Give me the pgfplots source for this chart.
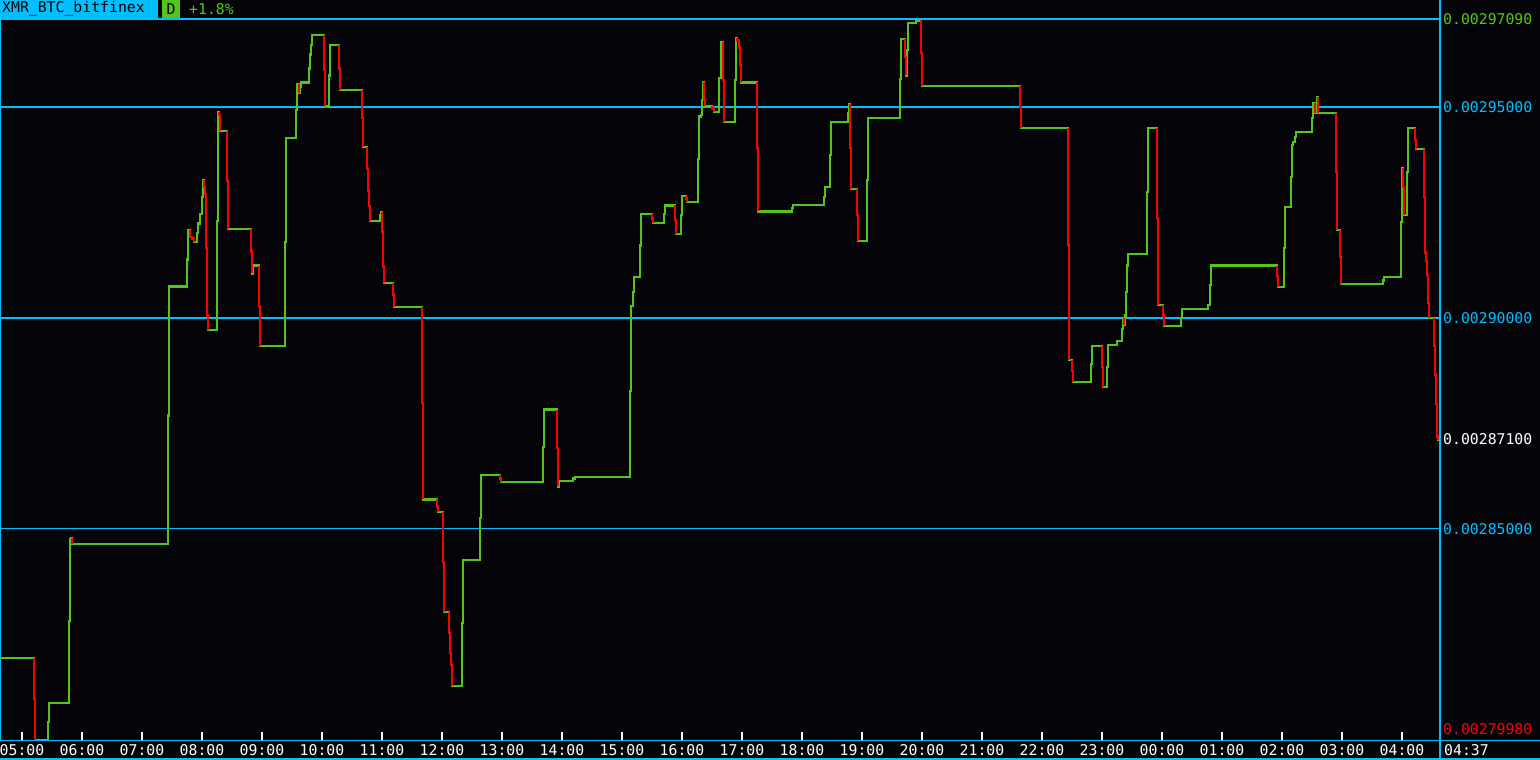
\documentclass[border=0pt]{standalone}
\usepackage{pgfplots}
\pgfplotsset{compat=1.18}
\usepackage{pgfplotstable}
\usepackage{fontspec}
\setmonofont{DejaVu Sans Mono}
\newcommand\lab{\ttfamily\fontsize{14.8}{15}\selectfont}
\definecolor{bgc}{RGB}{5,4,8}
\definecolor{skyc}{RGB}{0,191,255}
\definecolor{lgreen}{RGB}{82,198,26}
\definecolor{lred}{RGB}{255,0,0}

% price series: minute index (0 = left edge, 22 = 05:00) and price
\pgfplotstableread{
x y
0 0.00281939
34 0.00280966
35 0.00279980
48 0.00280413
49 0.00280867
69 0.00282823
70 0.00284757
71 0.00284779
72 0.00284646
168 0.00287685
169 0.00290746
187 0.00291387
188 0.00292083
190 0.00291917
192 0.00291884
194 0.00291807
197 0.00292017
198 0.00292238
200 0.00292470
202 0.00292878
203 0.00293265
204 0.00293099
205 0.00292934
206 0.00291663
207 0.00290060
208 0.00289707
217 0.00292293
218 0.00294890
219 0.00294812
220 0.00294425
227 0.00293243
228 0.00292105
251 0.00291575
252 0.00291055
253 0.00291243
259 0.00290282
260 0.00289342
285 0.00291807
286 0.00294260
296 0.00294923
297 0.00295553
299 0.00295332
300 0.00295475
301 0.00295586
309 0.00295917
310 0.00296249
311 0.00296470
312 0.00296713
324 0.00295884
325 0.00295033
329 0.00295751
330 0.00296470
339 0.00295917
340 0.00295398
362 0.00294735
363 0.00294061
367 0.00293541
368 0.00293022
369 0.00292657
370 0.00292304
380 0.00292436
381 0.00292514
382 0.00292050
383 0.00291221
384 0.00290823
393 0.00290558
394 0.00290260
422 0.00287983
423 0.00285696
437 0.00285530
438 0.00285397
443 0.00284204
444 0.00283022
449 0.00282525
450 0.00282049
451 0.00281773
452 0.00281276
462 0.00282768
463 0.00284260
480 0.00285254
481 0.00286282
500 0.00286193
501 0.00286105
543 0.00286944
544 0.00287829
557 0.00286911
558 0.00286005
559 0.00286127
573 0.00286193
575 0.00286226
630 0.00288260
631 0.00290282
633 0.00290613
634 0.00290978
640 0.00291718
641 0.00292469
652 0.00292359
653 0.00292249
664 0.00292469
665 0.00292668
675 0.00292326
676 0.00291994
681 0.00292436
682 0.00292900
686 0.00292834
687 0.00292757
698 0.00293762
699 0.00294779
701 0.00294812
702 0.00295177
703 0.00295586
704 0.00295177
705 0.00295033
712 0.00294967
714 0.00294878
719 0.00295696
721 0.00296547
723 0.00295641
724 0.00294646
735 0.00295641
736 0.00296635
737 0.00296580
739 0.00296415
740 0.00295995
741 0.00295586
757 0.00294039
758 0.00292525
792 0.00292602
793 0.00292680
824 0.00292878
825 0.00293100
830 0.00293873
831 0.00294646
848 0.00294867
849 0.00295066
850 0.00294039
851 0.00293055
857 0.00292436
858 0.00291817
867 0.00293265
868 0.00294735
900 0.00295663
901 0.00296613
905 0.00296193
906 0.00295751
907 0.00296359
908 0.00296989
916 0.00297055
921 0.00296282
922 0.00295497
1020 0.00295000
1021 0.00294503
1068 0.00291740
1069 0.00289011
1072 0.00288735
1073 0.00288481
1091 0.00288901
1092 0.00289342
1102 0.00288845
1103 0.00288371
1107 0.00288845
1108 0.00289364
1117 0.00289453
1122 0.00289729
1123 0.00290005
1124 0.00289840
1125 0.00290060
1126 0.00290613
1127 0.00291243
1128 0.00291519
1147 0.00292989
1148 0.00294503
1157 0.00292376
1158 0.00290315
1163 0.00290060
1164 0.00289806
1181 0.00290005
1182 0.00290205
1208 0.00290315
1210 0.00290779
1211 0.00291243
1277 0.00291000
1278 0.00290735
1284 0.00291663
1285 0.00292635
1291 0.00293343
1292 0.00294094
1293 0.00294171
1295 0.00294293
1296 0.00294403
1312 0.00294735
1313 0.00295088
1315 0.00294867
1317 0.00295232
1318 0.00294867
1336 0.00293453
1337 0.00292083
1340 0.00291442
1341 0.00290812
1383 0.00290890
1384 0.00290967
1401 0.00292271
1402 0.00293564
1403 0.00293099
1404 0.00292436
1407 0.00293453
1408 0.00294503
1415 0.00294227
1416 0.00294006
1424 0.00292878
1425 0.00291552
1426 0.00291354
1427 0.00291022
1428 0.00290359
1429 0.00290005
1434 0.00289342
1435 0.00288657
1436 0.00287961
1437 0.00287188
1438 0.00287100
1440 0.00287100
}\greendata

% falling moves (drawn red)
\pgfplotstableread{
x y
34 0.00281939
34 0.00280966
35 0.00280966
35 0.00279980
nan nan
72 0.00284779
72 0.00284646
nan nan
190 0.00292083
190 0.00291917
192 0.00291917
192 0.00291884
194 0.00291884
194 0.00291807
nan nan
204 0.00293265
204 0.00293099
205 0.00293099
205 0.00292934
206 0.00292934
206 0.00291663
207 0.00291663
207 0.00290060
208 0.00290060
208 0.00289707
nan nan
219 0.00294890
219 0.00294812
220 0.00294812
220 0.00294425
nan nan
227 0.00294425
227 0.00293243
228 0.00293243
228 0.00292105
nan nan
251 0.00292105
251 0.00291575
252 0.00291575
252 0.00291055
nan nan
259 0.00291243
259 0.00290282
260 0.00290282
260 0.00289342
nan nan
299 0.00295553
299 0.00295332
nan nan
324 0.00296713
324 0.00295884
325 0.00295884
325 0.00295033
nan nan
339 0.00296470
339 0.00295917
340 0.00295917
340 0.00295398
nan nan
362 0.00295398
362 0.00294735
363 0.00294735
363 0.00294061
nan nan
367 0.00294061
367 0.00293541
368 0.00293541
368 0.00293022
369 0.00293022
369 0.00292657
370 0.00292657
370 0.00292304
nan nan
382 0.00292514
382 0.00292050
383 0.00292050
383 0.00291221
384 0.00291221
384 0.00290823
nan nan
393 0.00290823
393 0.00290558
394 0.00290558
394 0.00290260
nan nan
422 0.00290260
422 0.00287983
423 0.00287983
423 0.00285696
nan nan
437 0.00285696
437 0.00285530
438 0.00285530
438 0.00285397
nan nan
443 0.00285397
443 0.00284204
444 0.00284204
444 0.00283022
nan nan
449 0.00283022
449 0.00282525
450 0.00282525
450 0.00282049
451 0.00282049
451 0.00281773
452 0.00281773
452 0.00281276
nan nan
500 0.00286282
500 0.00286193
501 0.00286193
501 0.00286105
nan nan
557 0.00287829
557 0.00286911
558 0.00286911
558 0.00286005
nan nan
652 0.00292469
652 0.00292359
653 0.00292359
653 0.00292249
nan nan
675 0.00292668
675 0.00292326
676 0.00292326
676 0.00291994
nan nan
686 0.00292900
686 0.00292834
687 0.00292834
687 0.00292757
nan nan
704 0.00295586
704 0.00295177
705 0.00295177
705 0.00295033
nan nan
712 0.00295033
712 0.00294967
714 0.00294967
714 0.00294878
nan nan
723 0.00296547
723 0.00295641
724 0.00295641
724 0.00294646
nan nan
737 0.00296635
737 0.00296580
739 0.00296580
739 0.00296415
740 0.00296415
740 0.00295995
741 0.00295995
741 0.00295586
nan nan
757 0.00295586
757 0.00294039
758 0.00294039
758 0.00292525
nan nan
850 0.00295066
850 0.00294039
851 0.00294039
851 0.00293055
nan nan
857 0.00293055
857 0.00292436
858 0.00292436
858 0.00291817
nan nan
905 0.00296613
905 0.00296193
906 0.00296193
906 0.00295751
nan nan
921 0.00297055
921 0.00296282
922 0.00296282
922 0.00295497
nan nan
1020 0.00295497
1020 0.00295000
1021 0.00295000
1021 0.00294503
nan nan
1068 0.00294503
1068 0.00291740
1069 0.00291740
1069 0.00289011
nan nan
1072 0.00289011
1072 0.00288735
1073 0.00288735
1073 0.00288481
nan nan
1102 0.00289342
1102 0.00288845
1103 0.00288845
1103 0.00288371
nan nan
1124 0.00290005
1124 0.00289840
nan nan
1157 0.00294503
1157 0.00292376
1158 0.00292376
1158 0.00290315
nan nan
1163 0.00290315
1163 0.00290060
1164 0.00290060
1164 0.00289806
nan nan
1277 0.00291243
1277 0.00291000
1278 0.00291000
1278 0.00290735
nan nan
1315 0.00295088
1315 0.00294867
nan nan
1318 0.00295232
1318 0.00294867
nan nan
1336 0.00294867
1336 0.00293453
1337 0.00293453
1337 0.00292083
nan nan
1340 0.00292083
1340 0.00291442
1341 0.00291442
1341 0.00290812
nan nan
1403 0.00293564
1403 0.00293099
1404 0.00293099
1404 0.00292436
nan nan
1415 0.00294503
1415 0.00294227
1416 0.00294227
1416 0.00294006
nan nan
1424 0.00294006
1424 0.00292878
1425 0.00292878
1425 0.00291552
1426 0.00291552
1426 0.00291354
1427 0.00291354
1427 0.00291022
1428 0.00291022
1428 0.00290359
1429 0.00290359
1429 0.00290005
nan nan
1434 0.00290005
1434 0.00289342
1435 0.00289342
1435 0.00288657
1436 0.00288657
1436 0.00287961
1437 0.00287961
1437 0.00287188
1438 0.00287188
1438 0.00287100
}\reddata

\begin{document}
\begin{tikzpicture}[x=1pt,y=1pt]
\path[use as bounding box, fill=bgc] (0,-19.5) rectangle (1540,740.5);
\begin{axis}[
  anchor=south west,
  scale only axis, width=1440pt, height=721.5pt,
  xmin=0, xmax=1440, ymin=0.0027998, ymax=0.0029709,
  axis line style={draw=skyc, line width=1.3pt},
  xtick={22,82,142,202,262,322,382,442,502,562,622,682,742,802,862,922,982,1042,1102,1162,1222,1282,1342,1402},
  xticklabels={05:00,06:00,07:00,08:00,09:00,10:00,11:00,12:00,13:00,14:00,15:00,16:00,17:00,18:00,19:00,20:00,21:00,22:00,23:00,00:00,01:00,02:00,03:00,04:00},
  xticklabel style={text=white, font=\lab, anchor=center, yshift=-10pt},
  xtick pos=lower, tick align=inside,
  major tick length=8pt,
  xtick style={draw=white, line width=1.2pt},
  ytick={0.00285,0.0029,0.00295},
  yticklabels={,,},
  ytick style={draw=none},
  ymajorgrids, grid style={draw=skyc, line width=1.3pt},
  scaled y ticks=false,
  unbounded coords=jump,
]
\addplot[lgreen, line width=2.2pt, const plot] table[x=x,y=y] {\greendata};
\addplot[lred, line width=2.2pt] table[x=x,y=y] {\reddata};
\end{axis}
% frame lines of the screen
\draw[skyc, line width=1.3pt] (0,0) -- (1540,0);
\draw[skyc, line width=1.3pt] (0,-18.5) -- (1540,-18.5);
\draw[skyc, line width=1.3pt] (1440,-19.5) -- (1440,740.5);
% price labels on the right
\node[anchor=west, inner sep=0, text=lgreen] at (1443,721.5) {\lab 0.00297090};
\node[anchor=west, inner sep=0, text=skyc] at (1443,633.5) {\lab 0.00295000};
\node[anchor=west, inner sep=0, text=skyc] at (1443,422.5) {\lab 0.00290000};
\node[anchor=west, inner sep=0, text=white] at (1443,301.5) {\lab 0.00287100};
\node[anchor=west, inner sep=0, text=skyc] at (1443,211.5) {\lab 0.00285000};
\node[anchor=west, inner sep=0, text=lred] at (1443,11.5) {\lab 0.00279980};
\node[anchor=west, inner sep=0, text=white] at (1444,-9.5) {\lab 04:37};
% header
\fill[skyc] (0,722.5) rectangle (158,740.5);
\node[anchor=west, inner sep=0, text=black] at (2,731.5) {\lab XMR\_BTC\_bitfinex};
\fill[lgreen] (162,722.5) rectangle (180,740.5);
\node[inner sep=0, text=black] at (171,731.5) {\lab D};
\node[anchor=west, inner sep=0, text=lgreen] at (189,731.5) {\lab +1.8\%};
\end{tikzpicture}
\end{document}
